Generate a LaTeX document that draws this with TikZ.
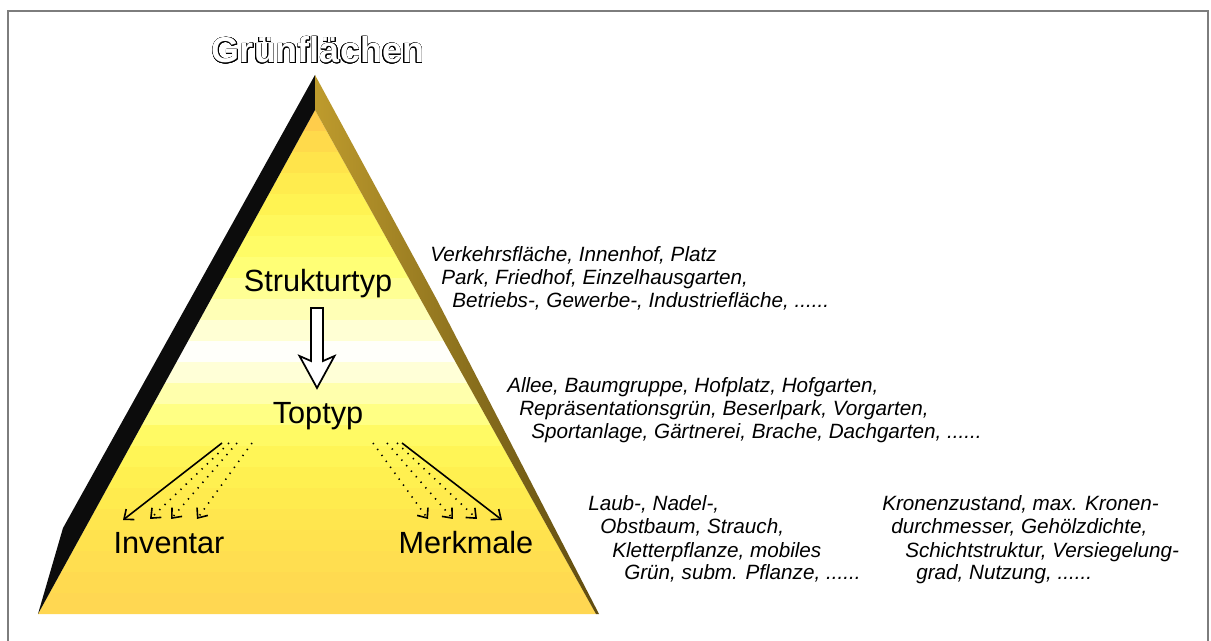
\documentclass[tikz,border=0pt]{standalone}
\usepackage{fontspec}
\setmainfont{Liberation Sans}
\usepackage{contour}
\contourlength{0.6pt}
\usetikzlibrary{arrows.meta,calc}

\definecolor{framegray}{RGB}{125,125,125}
\definecolor{sidedark}{RGB}{12,12,12}
\definecolor{goldlight}{RGB}{190,155,45}
\definecolor{golddark}{RGB}{95,75,15}
\newcommand{\etcdots}{......}

\tikzset{
  levelname/.style={font=\fontsize{23}{26}\selectfont, anchor=base, inner sep=0pt},
  examples/.style={font=\itshape\fontsize{15.5}{18}\selectfont, anchor=base west, inner sep=0pt},
  fan/.style={-{Straight Barb[length=6pt,width=10pt]}, line width=1.2pt},
  fandot/.style={fan, dash pattern=on 1pt off 4.5pt},
}

\begin{document}
\begin{tikzpicture}[x=0.75pt,y=-0.75pt]
  \useasboundingbox (0,0) rectangle (1211,641);
  % Frame
  \draw[framegray, line width=1pt] (8,641) -- (8,11) -- (1208,11) -- (1208,641);

  % Pyramid corners
  \coordinate (apex) at (315,75);
  \coordinate (fronttop) at (315,110);
  \coordinate (frontleft) at (38,614);
  \coordinate (frontright) at (596,614);
  \coordinate (leftbend) at (63,528);
  \coordinate (rightbend) at (437,300);
  \coordinate (rightfoot) at (599,614);

  % Front face, in bands
  \begin{scope}
    \clip (fronttop) -- (frontleft) -- (frontright) -- cycle;
    \foreach \i/\g/\b in {0/205/75, 1/218/75, 2/228/75, 3/236/78, 4/243/82,
        5/248/92, 6/252/102, 7/255/118, 8/255/148, 9/255/182, 10/255/212,
        11/255/250, 12/255/215, 13/255/172, 14/255/132, 15/250/100,
        16/245/86, 17/240/80, 18/235/78, 19/230/78, 20/226/78, 21/222/80,
        22/218/80, 23/215/82} {
      \definecolor{band}{RGB}{255,\g,\b}
      \fill[band] (30,{110+21*\i}) rectangle (610,{132+21*\i});
    }
  \end{scope}
  % Side faces
  \fill[sidedark] (apex) -- (leftbend) -- (frontleft) -- (fronttop) -- cycle;
  \shade[left color=goldlight, right color=golddark]
    (apex) -- (rightbend) -- (rightfoot) -- (frontright) -- (fronttop) -- cycle;

  % Title
  \node[font=\bfseries\fontsize{27}{31}\selectfont, anchor=base] (title) at (318,63)
    {\contour{black}{\textcolor{white}{Grünflächen}}};

  % Levels
  \node[levelname] (struk) at (318,292) {Strukturtyp};
  \node[levelname] (top) at (318,424) {Toptyp};
  \node[levelname] (inv) at (169,553) {Inventar};
  \node[levelname] (merk) at (466,553) {Merkmale};

  % Hollow arrow
  \coordinate (hollowtop) at (317,308);
  \coordinate (hollowtip) at (317,388);
  \draw[line width=1.3pt, fill=white, line join=miter]
    ($(hollowtop)+(-6,0)$) -- ($(hollowtop)+(6,0)$) -- ($(hollowtip)+(6,-27)$)
    -- ($(hollowtip)+(17.5,-32)$) -- (hollowtip) -- ($(hollowtip)+(-17.5,-32)$)
    -- ($(hollowtip)+(-6,-27)$) -- cycle;

  % Fan to Inventar
  \coordinate (invfrom) at (222,443);
  \coordinate (invto) at (123,520);
  \draw[fan] (invfrom) -- (invto);
  \foreach \n/\sx/\ex in {1/229/150, 2/237/171, 3/252/197} {
    \coordinate (invfrom\n) at (\sx,443);
    \coordinate (invto\n) at (\ex,519);
    \draw[fandot] (invfrom\n) -- (invto\n);
  }
  % Fan to Merkmale
  \coordinate (merkfrom) at (402,443);
  \coordinate (merkto) at (502,520);
  \draw[fan] (merkfrom) -- (merkto);
  \foreach \n/\sx/\ex in {1/373/428, 2/387/453, 3/397/477} {
    \coordinate (merkfrom\n) at (\sx,443);
    \coordinate (merkto\n) at (\ex,519);
    \draw[fandot] (merkfrom\n) -- (merkto\n);
  }

  % Examples
  \foreach \r/\txt in {{0/Verkehrsfläche, Innenhof, Platz},
      {1/Park, Friedhof, Einzelhausgarten,},
      {2/Betriebs-, Gewerbe-, Industriefläche, \etcdots}} {
    \node[examples] (strukex\r) at ({430+11*\r},{262+23*\r}) {\txt};
  }
  \foreach \r/\txt in {{0/Allee, Baumgruppe, Hofplatz, Hofgarten,},
      {1/Repräsentationsgrün, Beserlpark, Vorgarten,},
      {2/Sportanlage, Gärtnerei, Brache, Dachgarten, \etcdots}} {
    \node[examples] (topex\r) at ({507+12*\r},{393+23*\r}) {\txt};
  }
  \foreach \r/\txt in {{0/Laub-, Nadel-,}, {1/Obstbaum, Strauch,},
      {2/Kletterpflanze, mobiles}, {3/Grün, subm. Pflanze, \etcdots}} {
    \node[examples] (invex\r) at ({588+12*\r},{511+23*\r}) {\txt};
  }
  \foreach \r/\x/\txt in {{0/882/Kronenzustand, max. Kronen-},
      {1/891/durchmesser, Gehölzdichte,}, {2/905/Schichtstruktur, Versiegelung-},
      {3/916/grad, Nutzung, \etcdots}} {
    \node[examples] (merkex\r) at (\x,{511+23*\r}) {\txt};
  }
\end{tikzpicture}
\end{document}
